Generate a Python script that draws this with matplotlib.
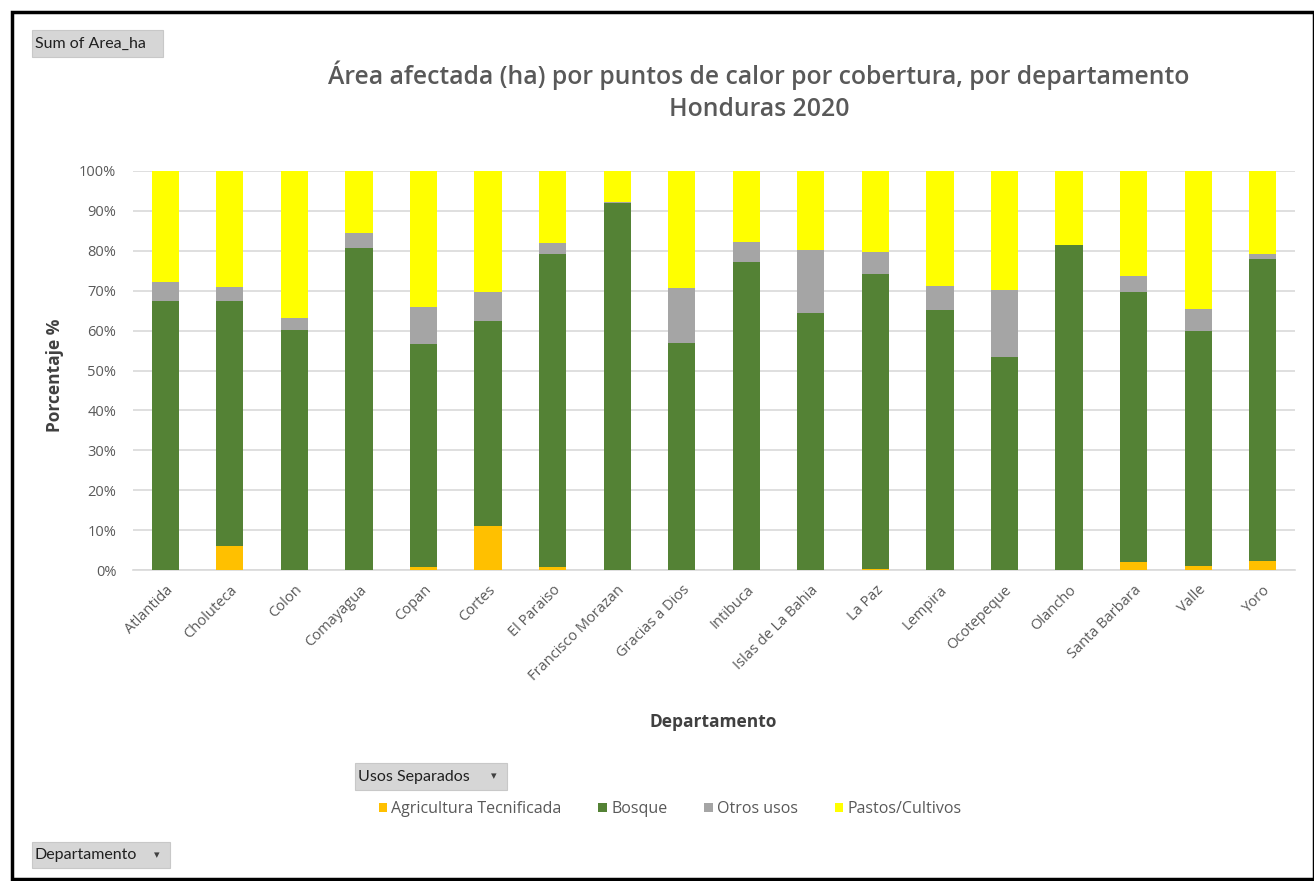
import matplotlib
matplotlib.use("Agg")
import matplotlib.pyplot as plt
import numpy as np
from matplotlib.patches import Rectangle

plt.rcParams['font.family'] = ['Open Sans', 'DejaVu Sans']

departamentos = ["Atlantida", "Choluteca", "Colon", "Comayagua", "Copan", "Cortes",
                 "El Paraiso", "Francisco Morazan", "Gracias a Dios", "Intibuca",
                 "Islas de La Bahia", "La Paz", "Lempira", "Ocotepeque", "Olancho",
                 "Santa Barbara", "Valle", "Yoro"]
agricultura = [0.0, 5.9, 0.0, 0.0, 0.8, 11.0, 0.8, 0.0, 0.0, 0.0, 0.0, 0.3, 0.0, 0.0, 0.0, 2.1, 1.1, 2.3]
bosque = [67.4, 61.5, 60.2, 80.6, 55.9, 51.4, 78.5, 92.0, 56.9, 77.1, 64.4, 73.9, 65.1, 53.3, 81.4, 67.5, 58.8, 75.7]
otros = [4.7, 3.5, 3.0, 3.8, 9.2, 7.2, 2.6, 0.2, 13.8, 5.2, 15.7, 5.5, 6.2, 16.8, 0.1, 4.2, 5.6, 1.3]
pastos = [100 - a - b - o for a, b, o in zip(agricultura, bosque, otros)]

series_names = ["Agricultura Tecnificada", "Bosque", "Otros usos", "Pastos/Cultivos"]
colors = ["#FFC000", "#548235", "#A5A5A5", "#FFFF00"]
yticks = [0, 10, 20, 30, 40, 50, 60, 70, 80, 90, 100]

W, H = 1314, 881
fig = plt.figure(figsize=(W / 100, H / 100), dpi=100)
fig.patch.set_facecolor("white")

def fx(px):
    return px / W

def fy(py):
    return 1 - py / H

ax = fig.add_axes([fx(133), fy(570), fx(1295) - fx(133), fy(171) - fy(570)])
x = np.arange(len(departamentos))
bottom = np.zeros(len(departamentos))
handles = []
for vals, name, c in zip([agricultura, bosque, otros, pastos], series_names, colors):
    h = ax.bar(x, vals, width=0.42, bottom=bottom, color=c, label=name, zorder=3)
    handles.append(h)
    bottom += np.array(vals)

ax.set_xlim(-0.5, len(departamentos) - 0.5)
ax.set_ylim(0, 100)
ax.set_yticks(yticks)
ax.set_yticklabels([f"{v}%" for v in yticks])
ax.yaxis.grid(True, color="#D9D9D9", linewidth=1.2, zorder=0)
for s in ["top", "right", "left"]:
    ax.spines[s].set_visible(False)
ax.spines["bottom"].set_color("#D9D9D9")
ax.spines["bottom"].set_linewidth(1.2)
ax.tick_params(axis="both", length=0, colors="#595959", labelsize=10.5)
ax.tick_params(axis="y", pad=12)
ax.set_xticks(x)
ax.set_xticklabels(departamentos, rotation=45, ha="right", rotation_mode="anchor")
ax.tick_params(axis="x", pad=9)

fig.text(fx(55), fy(375), "Porcentaje %", ha="center", va="center", rotation=90,
         fontsize=12.5, fontweight="bold", color="#404040")
fig.text(fx(713), fy(722), "Departamento", ha="center", va="center",
         fontsize=12.5, fontweight="bold", color="#404040")

fig.text(fx(759), fy(75), "Área afectada (ha) por puntos de calor por cobertura, por departamento",
         ha="center", va="center", fontsize=17.8, fontweight="semibold", color="#595959")
fig.text(fx(759), fy(110), "Honduras 2020", ha="center", va="center",
         fontsize=17.8, fontweight="semibold", color="#595959")

# legend
leg = fig.legend(handles=handles, labels=series_names, loc="center",
                 bbox_to_anchor=(fx(670), fy(809)), ncol=4, frameon=False,
                 fontsize=11.5, handlelength=0.55, handleheight=0.55, handletextpad=0.25,
                 columnspacing=2.3, labelcolor="#595959")

# pivot buttons
def button(x0, y0, x1, y1, text, arrow=False):
    r = Rectangle((fx(x0), fy(y1)), fx(x1) - fx(x0), fy(y0) - fy(y1),
                  transform=fig.transFigure, facecolor="#D6D6D6",
                  edgecolor="#C8C8C8", linewidth=0.8)
    fig.add_artist(r)
    fig.text(fx(x0 + 3), fy((y0 + y1) / 2), text, ha="left", va="center",
             fontsize=11.5, color="#202020", family=["Lato", "DejaVu Sans"])
    if arrow:
        fig.text(fx(x1 - 13), fy((y0 + y1) / 2), "▾", ha="center", va="center",
                 fontsize=8, color="#404040", family=["DejaVu Sans"])

button(32, 30, 163, 57, "Sum of Area_ha")
button(355, 763, 507, 790, "Usos Separados", arrow=True)
button(32, 842, 170, 868, "Departamento", arrow=True)

# outer frame
frame = Rectangle((fx(12), fy(879)), fx(1314) - fx(12), fy(12) - fy(879),
                  transform=fig.transFigure, facecolor="none", edgecolor="black",
                  linewidth=2.5)
fig.add_artist(frame)

fig.savefig("out.png", dpi=100)
